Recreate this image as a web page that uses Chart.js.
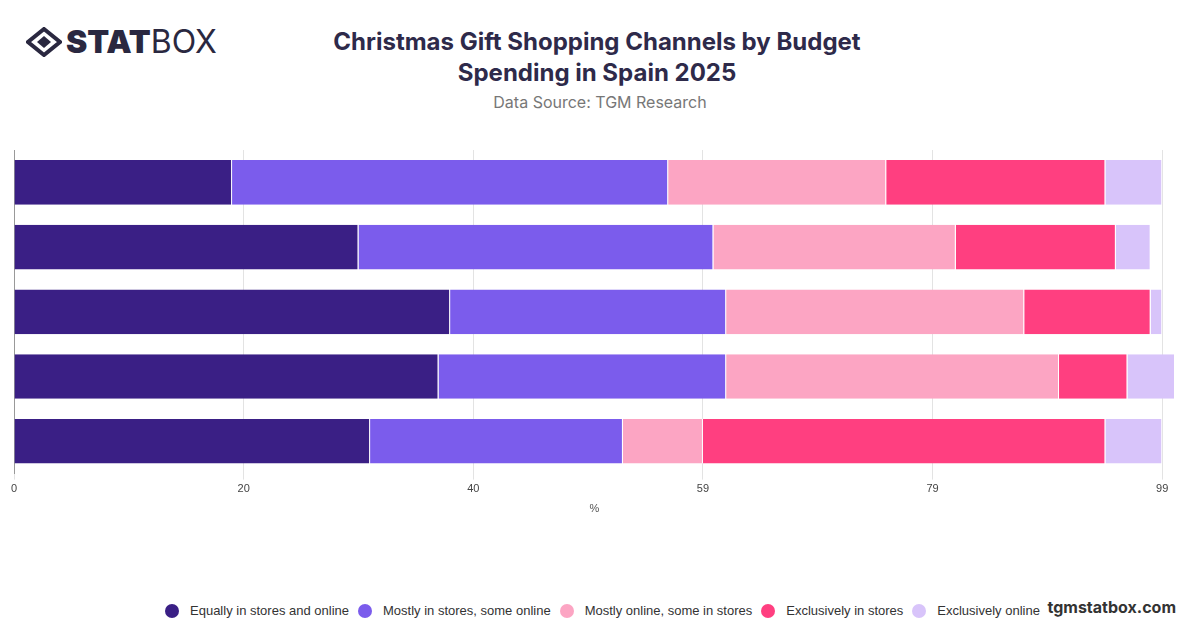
<!DOCTYPE html>
<html>
<head>
<meta charset="utf-8">
<script src="https://cdn.jsdelivr.net/npm/chart.js@4"></script>
<style>
  body { margin:0; width:1200px; height:628px; background:#fff; font-family:Inter, "Noto Sans", sans-serif; position:relative; overflow:hidden; }
  .logo { position:absolute; left:26px; top:22px; font-size:32px; color:#2a2840; display:flex; align-items:center; }
  .logo svg { margin-right:4px; }
  .title { position:absolute; left:0; width:1194px; top:26px; text-align:center; font-size:24px; font-weight:700; color:#2e2a4a; line-height:31px; }
  .sub { position:absolute; left:0; width:1200px; top:92px; text-align:center; font-size:16px; color:#777; }
  #wrap { position:absolute; left:0; top:140px; width:1200px; height:380px; }
  .legend { position:absolute; top:603px; left:165px; display:flex; font-family:"Liberation Sans", Arial, sans-serif; font-size:13px; color:#333; white-space:nowrap; }
  .legend span { display:flex; align-items:center; margin-right:9px; }
  .legend i { width:14px; height:14px; border-radius:50%; display:inline-block; margin-right:11px; }
  .foot { position:absolute; right:24px; top:597px; font-size:16px; font-weight:700; color:#333; }
</style>
</head>
<body>
<div class="logo"><svg width="36" height="30" viewBox="0 0 36 30"><path d="M18 2 L34 15 L18 28 L2 15 Z" fill="none" stroke="#2a2840" stroke-width="4"/><path d="M18 9 L25 15 L18 21 L11 15 Z" fill="#2a2840"/></svg><b style="font-weight:900">STAT</b>BOX</div>
<div class="title">Christmas Gift Shopping Channels by Budget<br>Spending in Spain 2025</div>
<div class="sub">Data Source: TGM Research</div>
<div id="wrap"><canvas id="c"></canvas></div>
<div class="legend" id="legend"></div>
<div class="foot">tgmstatbox.com</div>
<script>
const categories = ["Under €100", "€100–€199", "€200–€299", "€300–€499", "€500 or more"];
const seriesNames = ["Equally in stores and online", "Mostly in stores, some online", "Mostly online, some in stores", "Exclusively in stores", "Exclusively online"];
const colors = ["#3a1f85", "#7b5cec", "#fca5c3", "#ff3f80", "#d8c4fa"];
const equally   = [18.8, 29.7, 37.6, 36.6, 30.7];
const mostStore = [37.6, 30.6, 23.8, 24.8, 21.8];
const mostOnline= [18.8, 20.9, 25.7, 28.7, 6.9];
const exclStore = [18.9, 13.8, 10.9, 5.9, 34.7];
const exclOnline= [4.9, 3.0, 1.0, 4.1, 4.9];
const tickValues = [0, 19.8, 39.6, 59.4, 79.2, 99];
const values = [equally, mostStore, mostOnline, exclStore, exclOnline];

document.getElementById('legend').innerHTML = seriesNames.map((n, i) =>
  `<span><i style="background:${colors[i]}"></i>${n}</span>`).join('');

new Chart(document.getElementById('c'), {
  type: 'bar',
  data: {
    labels: categories,
    datasets: seriesNames.map((n, i) => ({
      label: n, data: values[i], backgroundColor: colors[i],
      borderColor: '#fff', borderWidth: { right: 1 }, borderSkipped: false
    }))
  },
  options: {
    indexAxis: 'y',
    responsive: true,
    maintainAspectRatio: false,
    animation: false,
    layout: { padding: { left: 6, right: 25, top: 10 } },
    categoryPercentage: 1,
    barPercentage: 0.69,
    plugins: { legend: { display: false }, tooltip: { enabled: false } },
    scales: {
      x: {
        stacked: true, min: 0, max: 100.1,
        afterBuildTicks: axis => { axis.ticks = tickValues.map(v => ({ value: v })); },
        ticks: { callback: v => Math.round(v), color: '#444', font: { size: 11 }, maxRotation: 0 },
        grid: { color: '#e3e3e3', drawTicks: true, tickLength: 6 },
        border: { display: false },
        title: { display: true, text: '%', color: '#555', font: { size: 11 } }
      },
      y: {
        stacked: true,
        ticks: { display: false },
        grid: { display: false },
        border: { color: '#999' }
      }
    }
  }
});
</script>
</body>
</html>
